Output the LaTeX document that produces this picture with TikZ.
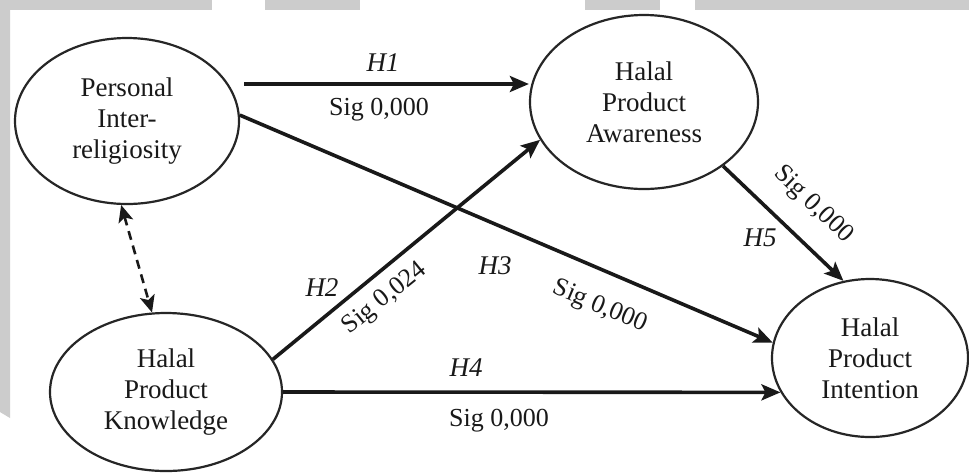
\documentclass[tikz,border=0pt]{standalone}
\usepackage{fontspec}
\setmainfont{Liberation Serif}
\usetikzlibrary{shapes.geometric,arrows.meta}
\begin{document}
\begin{tikzpicture}[x=0.5pt,y=-0.5pt,
  latent/.style={ellipse,draw=black!85,line width=1.1pt,inner sep=0pt,align=center,
    font=\fontsize{13.5}{15.5}\selectfont,text=black!90},
  path/.style={line width=1.8pt,draw=black!90,-{Stealth[length=9.5pt,width=8pt,inset=2pt]}},
  dashpath/.style={line width=1.3pt,draw=black!90,dash pattern=on 4.5pt off 3pt,
    {Stealth[length=8.5pt,width=7.5pt,inset=2pt]}-{Stealth[length=8.5pt,width=7.5pt,inset=2pt]}},
  hyp/.style={font=\fontsize{13.5}{15}\selectfont\itshape,text=black!90},
  sig/.style={font=\fontsize{13}{15}\selectfont,text=black!90},
]
\useasboundingbox (0,0) rectangle (969,473);
\fill[white] (0,0) rectangle (969,473);
% grey page strips
\fill[gray!40] (0,0) rectangle (212,9.5);
\fill[gray!40] (265,0) rectangle (360,9.5);
\fill[gray!40] (585,0) rectangle (660,9.5);
\fill[gray!40] (695,0) rectangle (969,9.5);
\fill[gray!40] (0,0) -- (10,0) -- (10,418) -- (0,412) -- cycle;

% constructs
\node[latent,minimum width=112pt,minimum height=83pt] (pir) at (127,121) {Personal\\Inter-\\religiosity};
\node[latent,minimum width=114pt,minimum height=87pt] (pha) at (644,102) {Halal\\Product\\Awareness};
\node[latent,minimum width=116pt,minimum height=79pt] (phk) at (166,392) {Halal\\Product\\Knowledge};
\node[latent,minimum width=98pt,minimum height=79pt] (phi) at (870,358) {Halal\\Product\\Intention};

% paths
\coordinate (h1s) at (244,84);
\draw[path] (h1s) -- (h1s -| pha.west);
\draw[path] (pir.3.7) -- (phi.171);
\draw[path] (phk.17) -- (pha.200);
\draw[path] (phk.east) -- (phi.201.7);
\draw[path] (pha.-39.7) -- (phi.109);
\draw[dashpath] (pir.-94.6) -- (phk.100);

% labels
\node[hyp] (lh1) at (383,63) {H1};
\node[sig] (s1) at (379,110) {Sig 0,000};
\node[hyp] (lh2) at (322,288) {H2};
\node[sig,rotate=39] (s2) at (385,299) {Sig 0,024};
\node[hyp] (lh3) at (495,266) {H3};
\node[sig,rotate=-23] (s3) at (600,307) {Sig 0,000};
\node[hyp] (lh4) at (466,368) {H4};
\node[sig] (s4) at (499,421) {Sig 0,000};
\node[hyp] (lh5) at (760,238) {H5};
\node[sig,rotate=-44] (s5) at (813,205) {Sig 0,000};
\end{tikzpicture}
\end{document}
